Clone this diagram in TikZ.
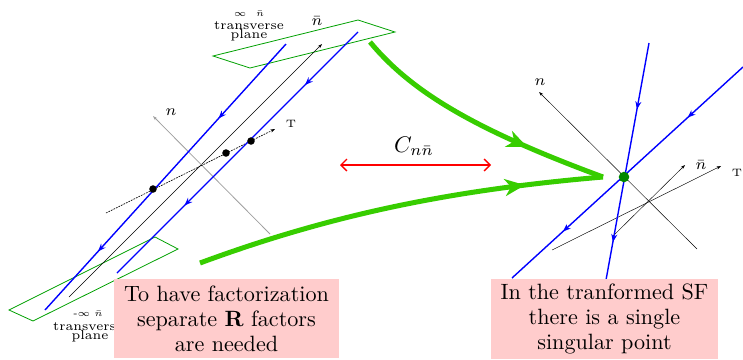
\RequirePackage{fix-cm}
\documentclass[tikz,border=0pt]{standalone}
\usetikzlibrary{arrows.meta,decorations.markings}
\definecolor{planegreen}{RGB}{0,160,0}
\definecolor{thickgreen}{RGB}{55,205,0}
\definecolor{dotgreen}{RGB}{0,135,0}
\definecolor{pinkfill}{RGB}{255,204,204}
\begin{document}
\begin{tikzpicture}[x=0.4651pt,y=-0.4651pt,
  plane/.style={draw=planegreen, line width=0.37pt},
  blueline/.style={blue, line width=0.65pt},
  bluemid/.style 2 args={blueline, postaction={decorate},
     decoration={markings,
       mark=at position #1 with {\arrow{Stealth[length=3.7pt,width=2.8pt]}},
       mark=at position #2 with {\arrow{Stealth[length=3.7pt,width=2.8pt]}}}},
  axis/.style={line width=0.21pt, -{Stealth[length=2.1pt,width=1.4pt]}},
  greenthick/.style={thickgreen, line width=2.33pt, postaction={decorate},
     decoration={markings, mark=at position #1 with {\arrow{Stealth[length=9.3pt,width=7.9pt,inset=2.8pt]}}}},
  pinkbox/.style={fill=pinkfill, inner sep=0pt, align=center,
     font=\fontsize{10.3}{11.6}\selectfont},
  tinylab/.style={anchor=base, inner sep=0pt, font=\fontsize{4.3}{4.3}\selectfont},
  smalllab/.style={anchor=base, inner sep=0pt, font=\fontsize{6}{6}\selectfont},
  axlab/.style={inner sep=0pt, font=\fontsize{7.2}{7.2}\selectfont},
  tlab/.style={inner sep=0pt, font=\fontsize{5}{5}\selectfont},
  bigdot/.style={circle, fill=black, inner sep=0pt, minimum size=3.5pt}
]
\useasboundingbox (0,0) rectangle (743,359);

% transverse planes
\coordinate (p1a) at (213,56); \coordinate (p1b) at (250,68);
\coordinate (p1c) at (395,32); \coordinate (p1d) at (358,20);
\draw[plane] (p1a) -- (p1b) -- (p1c) -- (p1d) -- cycle;
\coordinate (p2a) at (9,310); \coordinate (p2b) at (33,321);
\coordinate (p2c) at (178,249); \coordinate (p2d) at (155,237);
\draw[plane] (p2a) -- (p2b) -- (p2c) -- (p2d) -- cycle;

% left axes
\coordinate (nbs) at (69,297); \coordinate (nbe) at (322,44);
\draw[axis, black] (nbs) -- (nbe);
\coordinate (ns) at (270,234); \coordinate (ne) at (153,116);
\draw[axis, gray!75, line width=0.37pt] (ns) -- (ne);
\coordinate (ts) at (106,213); \coordinate (te) at (275,129);
\draw[axis, dash pattern=on 0.8pt off 0.5pt, line width=0.3pt] (ts) -- (te);

% left blue lines
\coordinate (b1s) at (286,44); \coordinate (b1e) at (45,310);
\draw[bluemid={0.28}{0.78}] (b1s) -- (b1e);
\coordinate (b2s) at (358,32); \coordinate (b2e) at (117,273);
\draw[bluemid={0.22}{0.72}] (b2s) -- (b2e);

% dots
\node[bigdot] (d1) at (153,189) {};
\node[bigdot] (d2) at (226,153) {};
\node[bigdot] (d3) at (251,141) {};

% left labels
\node[axlab] (lnl) at (171,112) {$n$};
\node[tlab] (ltl) at (291,124) {T};
\node[axlab] (lnb) at (317,21) {$\bar n$};
\node[tinylab] (ti1) at (249,16) {$\infty$\hspace{4.5pt}$\bar n$};
\node[smalllab] (ti2) at (249,29) {transverse};
\node[smalllab] (ti3) at (249,38) {plane};
\node[tinylab] (bi1) at (88,316) {-$\infty$ $\bar n$};
\node[smalllab] (bi2) at (88,330) {transverse};
\node[smalllab] (bi3) at (90,339.5) {plane};

% right axes
\coordinate (rns) at (697,249); \coordinate (rne) at (539,92);
\draw[axis, black] (rns) -- (rne);
\coordinate (rbs) at (612,237); \coordinate (rbe) at (685,165);
\draw[axis, black] (rbs) -- (rbe);
\coordinate (rts) at (552,250); \coordinate (rte) at (721,166);
\draw[axis, black] (rts) -- (rte);
\node[axlab] (rnl) at (540,82) {$n$};
\node[axlab] (rnbl) at (701,165) {$\bar n$};
\node[tlab] (rtl) at (737,173) {T};

% right blue lines
\coordinate (ras) at (649,43); \coordinate (rae) at (606,280);
\draw[bluemid={0.28}{0.84}] (ras) -- (rae);
\coordinate (rbls) at (743,67); \coordinate (rble) at (512,278);
\draw[bluemid={0.24}{0.78}] (rbls) -- (rble);

% green thick arrows
\coordinate (gend) at (603,177);
\coordinate (g1s) at (370,42);
\coordinate (g2s) at (200,263);
\draw[greenthick=0.70] (g1s) .. controls (410,90) and (470,128) .. (gend);
\draw[greenthick=0.81] (g2s) .. controls (330,215) and (450,190) .. (gend);
\node[circle, fill=dotgreen, inner sep=0pt, minimum size=4.9pt] (sing) at (624,177) {};

% red double arrow
\coordinate (ra) at (340,165); \coordinate (rb) at (491,165);
\draw[red, line width=0.6pt, {Straight Barb[length=2.8pt,width=5.6pt]}-{Straight Barb[length=2.8pt,width=5.6pt]}] (ra) -- (rb);
\node[inner sep=0pt, font=\fontsize{10.5}{10.5}\selectfont] (cl) at (414,146) {$C_{n\bar n}$};

% pink boxes
\node[pinkbox, minimum width=104.65pt, minimum height=36.74pt] (box1) at (226.5,318.5)
  {To have factorization\\separate \textbf{R} factors\\are needed};
\node[pinkbox, minimum width=105.6pt, minimum height=37.2pt] (box2) at (604.5,319)
  {In the tranformed SF\\there is a single\\singular point};
\end{tikzpicture}
\end{document}
